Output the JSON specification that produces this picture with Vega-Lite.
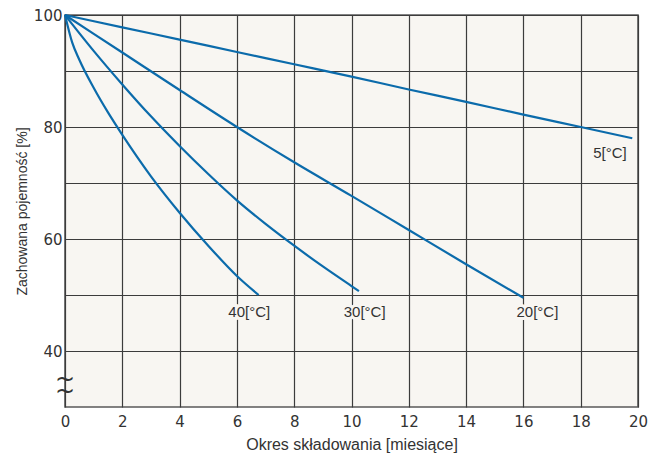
{
  "$schema": "https://vega.github.io/schema/vega-lite/v6.json",
  "width": 573,
  "height": 392,
  "autosize": {"type": "none"},
  "padding": {"left": 65, "top": 15, "right": 27, "bottom": 52},
  "background": "white",
  "config": {
    "view": {"fill": "#f8f6f2", "stroke": "#5a5a5a", "strokeWidth": 1.6}
  },
  "datasets": {
    "curves": [
      {"temp": "5", "month": 0, "value": 100},
      {"temp": "5", "month": 2, "value": 97.8},
      {"temp": "5", "month": 4, "value": 95.6},
      {"temp": "5", "month": 6, "value": 93.4},
      {"temp": "5", "month": 8, "value": 91.2},
      {"temp": "5", "month": 10, "value": 89.0},
      {"temp": "5", "month": 12, "value": 86.7},
      {"temp": "5", "month": 14, "value": 84.5},
      {"temp": "5", "month": 16, "value": 82.2},
      {"temp": "5", "month": 18, "value": 80.0},
      {"temp": "5", "month": 19.8, "value": 78.0},
      {"temp": "20", "month": 0, "value": 100},
      {"temp": "20", "month": 2, "value": 93.3},
      {"temp": "20", "month": 4, "value": 86.6},
      {"temp": "20", "month": 6, "value": 80.0},
      {"temp": "20", "month": 8, "value": 73.7},
      {"temp": "20", "month": 10, "value": 67.7},
      {"temp": "20", "month": 12, "value": 61.6},
      {"temp": "20", "month": 14, "value": 55.5},
      {"temp": "20", "month": 16, "value": 49.5},
      {"temp": "30", "month": 0, "value": 100},
      {"temp": "30", "month": 1, "value": 93.6},
      {"temp": "30", "month": 2, "value": 87.6},
      {"temp": "30", "month": 3, "value": 81.9},
      {"temp": "30", "month": 4, "value": 76.6},
      {"temp": "30", "month": 5, "value": 71.6},
      {"temp": "30", "month": 6, "value": 66.9},
      {"temp": "30", "month": 7, "value": 62.7},
      {"temp": "30", "month": 8, "value": 58.8},
      {"temp": "30", "month": 9, "value": 55.1},
      {"temp": "30", "month": 10, "value": 51.6},
      {"temp": "30", "month": 10.26, "value": 50.7},
      {"temp": "40", "month": 0, "value": 100},
      {"temp": "40", "month": 0.25, "value": 95.1},
      {"temp": "40", "month": 0.5, "value": 92.0},
      {"temp": "40", "month": 1, "value": 87.0},
      {"temp": "40", "month": 1.5, "value": 82.6},
      {"temp": "40", "month": 2, "value": 78.6},
      {"temp": "40", "month": 3, "value": 71.2},
      {"temp": "40", "month": 4, "value": 64.7},
      {"temp": "40", "month": 5, "value": 58.8},
      {"temp": "40", "month": 6, "value": 53.4},
      {"temp": "40", "month": 6.76, "value": 50.0}
    ],
    "labels": [
      {"label": "5[°C]", "month": 19.02, "value": 75.4},
      {"label": "20[°C]", "month": 16.49, "value": 47.0},
      {"label": "30[°C]", "month": 10.46, "value": 47.0},
      {"label": "40[°C]", "month": 6.43, "value": 47.0}
    ],
    "brk": [
      {"sym": "~|~", "month": 0, "value": 34.8}
    ]
  },
  "layer": [
    {
      "data": {"name": "curves"},
      "mark": {"type": "line", "interpolate": "monotone", "color": "#0b6bab", "strokeWidth": 2.2},
      "encoding": {
        "x": {
          "field": "month", "type": "quantitative",
          "scale": {"domain": [0, 20], "nice": false, "zero": false},
          "axis": {
            "values": [0, 2, 4, 6, 8, 10, 12, 14, 16, 18, 20],
            "grid": true, "gridColor": "#3c3c3c", "gridWidth": 1.2,
            "domain": false, "ticks": false,
            "labelFont": "DejaVu Sans", "labelFontSize": 15, "labelColor": "#333333",
            "labelPadding": 7, "labelFlush": false,
            "title": "Okres składowania [miesiące]",
            "titleFont": "Liberation Sans", "titleFontSize": 16, "titleFontWeight": "normal",
            "titleColor": "#333333", "titlePadding": 7
          }
        },
        "y": {
          "field": "value", "type": "quantitative",
          "scale": {"domain": [30, 100], "nice": false, "zero": false},
          "axis": {
            "values": [40, 50, 60, 70, 80, 90, 100],
            "labelExpr": "datum.value % 20 == 0 ? datum.label : ''",
            "grid": true, "gridColor": "#3c3c3c", "gridWidth": 1.2,
            "domain": false, "ticks": false,
            "labelFont": "DejaVu Sans", "labelFontSize": 15, "labelColor": "#333333",
            "labelPadding": 3,
            "title": "Zachowana pojemność [%]",
            "titleFont": "Liberation Sans", "titleFontSize": 14, "titleFontWeight": "normal",
            "titleColor": "#333333", "titlePadding": 4
          }
        },
        "detail": {"field": "temp"}
      }
    },
    {
      "data": {"name": "labels"},
      "mark": {"type": "text", "font": "Liberation Sans", "fontSize": 15, "color": "#f8f6f2", "stroke": "#f8f6f2", "strokeWidth": 6, "baseline": "middle", "align": "center"},
      "encoding": {
        "x": {"field": "month", "type": "quantitative"},
        "y": {"field": "value", "type": "quantitative"},
        "text": {"field": "label"}
      }
    },
    {
      "data": {"name": "labels"},
      "mark": {"type": "text", "font": "Liberation Sans", "fontSize": 15, "color": "#333333", "baseline": "middle", "align": "center"},
      "encoding": {
        "x": {"field": "month", "type": "quantitative"},
        "y": {"field": "value", "type": "quantitative"},
        "text": {"field": "label"}
      }
    },
    {
      "data": {"name": "brk"},
      "mark": {"type": "text", "font": "DejaVu Sans", "fontSize": 24, "color": "#333333", "baseline": "middle", "align": "center", "lineBreak": "|", "lineHeight": 12},
      "encoding": {
        "x": {"field": "month", "type": "quantitative"},
        "y": {"field": "value", "type": "quantitative"},
        "text": {"field": "sym"}
      }
    }
  ]
}
